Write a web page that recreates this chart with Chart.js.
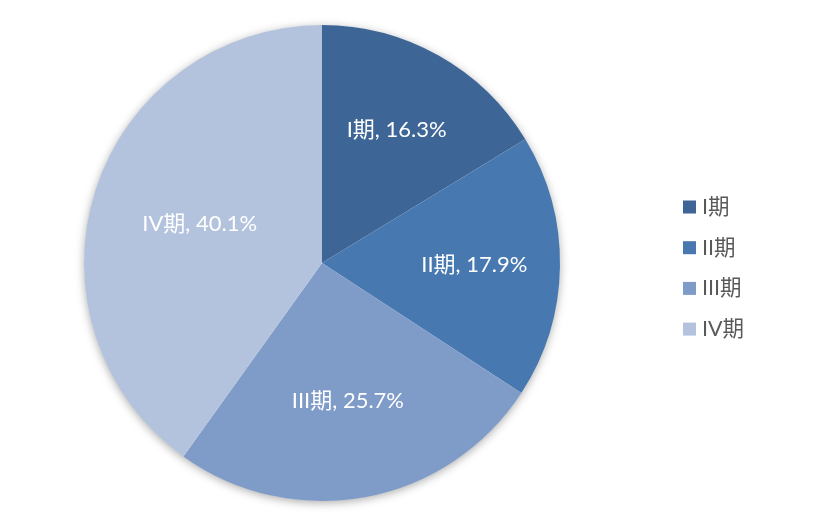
<!DOCTYPE html>
<html><head><meta charset="utf-8">
<script src="https://cdn.jsdelivr.net/npm/chart.js@4"></script>
<style>html,body{margin:0;padding:0;background:#fff}#wrap{width:815px;height:525px;position:relative}</style>
</head><body><div id="wrap"><canvas id="c" width="815" height="525"></canvas></div>
<script>
const categories = ['I期', 'II期', 'III期', 'IV期'];
const values = [16.3, 17.9, 25.7, 40.1];
const colors = ['#3D6596', '#4878B0', '#7F9BC8', '#B4C3DD'];
const labelRadius = [0.64, 0.64, 0.59, 0.54];
const FONT = "Lato, 'Noto Sans CJK SC', sans-serif";

const shadowPlugin = {
  id: 'shadow',
  beforeDatasetsDraw(chart) {
    const arc = chart.getDatasetMeta(0).data[0];
    if (!arc) return;
    const ctx = chart.ctx;
    ctx.save();
    ctx.shadowColor = 'rgba(0,0,0,0.35)';
    ctx.shadowBlur = 10;
    ctx.shadowOffsetY = 2;
    ctx.fillStyle = '#ffffff';
    ctx.beginPath();
    ctx.arc(arc.x, arc.y, arc.outerRadius - 0.5, 0, Math.PI * 2);
    ctx.fill();
    ctx.restore();
  }
};

const labelPlugin = {
  id: 'sliceLabels',
  afterDatasetsDraw(chart) {
    const ctx = chart.ctx;
    const meta = chart.getDatasetMeta(0);
    ctx.save();
    ctx.font = '22px ' + FONT;
    ctx.fillStyle = '#ffffff';
    ctx.textAlign = 'center';
    ctx.textBaseline = 'middle';
    meta.data.forEach((a, i) => {
      const mid = (a.startAngle + a.endAngle) / 2;
      const r = a.outerRadius * labelRadius[i];
      const x = a.x + Math.cos(mid) * r;
      const y = a.y + Math.sin(mid) * r;
      ctx.fillText(categories[i] + ', ' + values[i].toFixed(1) + '%', x, y);
    });
    ctx.restore();
  }
};

const legendPlugin = {
  id: 'customLegend',
  afterDraw(chart) {
    const ctx = chart.ctx;
    ctx.save();
    ctx.font = '21.5px ' + FONT;
    ctx.textBaseline = 'middle';
    ctx.textAlign = 'left';
    categories.forEach((c, i) => {
      const y = 207 + i * 40.7;
      ctx.fillStyle = colors[i];
      ctx.fillRect(683, y - 6.5, 13, 13);
      ctx.fillStyle = '#595959';
      ctx.fillText(c, 702, y);
    });
    ctx.restore();
  }
};

new Chart(document.getElementById('c'), {
  type: 'pie',
  data: {
    labels: categories,
    datasets: [{ data: values, backgroundColor: colors, borderWidth: 0 }]
  },
  options: {
    responsive: false,
    animation: false,
    layout: { padding: { left: 84, right: 255, top: 25, bottom: 24 } },
    plugins: { legend: { display: false }, tooltip: { enabled: false } }
  },
  plugins: [shadowPlugin, labelPlugin, legendPlugin]
});
</script></body></html>
